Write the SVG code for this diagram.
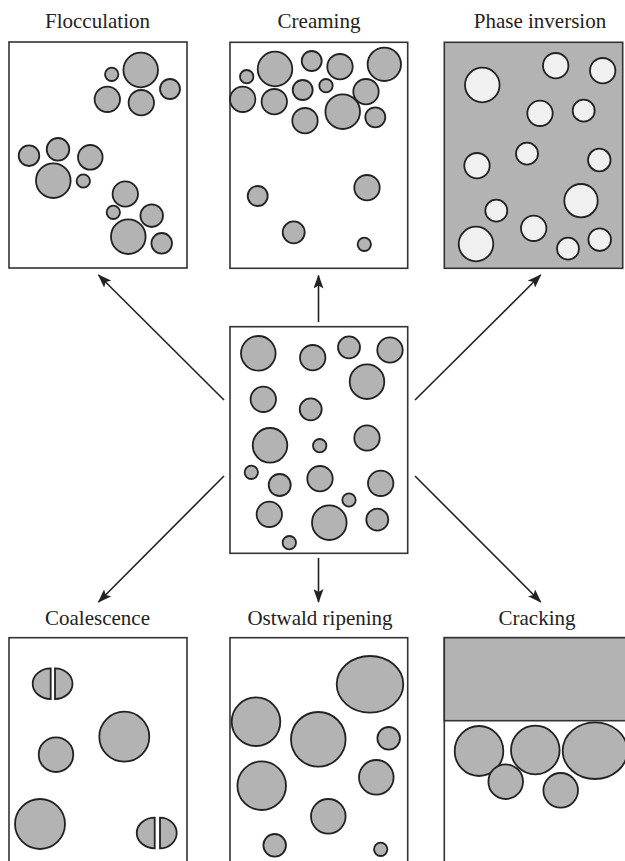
<svg xmlns="http://www.w3.org/2000/svg" width="625" height="861" viewBox="0 0 625 861">
<defs>
<marker id="ah" markerWidth="14" markerHeight="10" refX="13" refY="5" orient="auto" markerUnits="userSpaceOnUse">
<path d="M0,0 L14,5 L0,10 L3,5 Z" fill="#222"/>
</marker>
<style>
.panel{fill:#fff;stroke:#333;stroke-width:1.6}
.dark{fill:#b3b3b3;stroke:#333;stroke-width:1.6}
.d{fill:#b3b3b3;stroke:#222;stroke-width:1.8}
.w{fill:#f0f0f0;stroke:#222;stroke-width:1.8}
.t{font-family:"Liberation Serif","Times New Roman",serif;font-size:21px;fill:#222;text-anchor:middle}
.c{stroke:#222;stroke-width:1.6;fill:none;marker-end:url(#ah)}
</style>
</defs>
<rect width="625" height="861" fill="#fff"/>

<g id="flocculation">
<text class="t" x="97.5" y="28">Flocculation</text>
<rect class="panel" x="9" y="42" width="178" height="226"/>
<circle class="d" cx="140.7" cy="70" r="17.3"/>
<circle class="d" cx="111.7" cy="74.3" r="6.7"/>
<circle class="d" cx="170" cy="89" r="10"/>
<circle class="d" cx="107.3" cy="99.3" r="12.7"/>
<circle class="d" cx="141.3" cy="102.7" r="12.7"/>
<circle class="d" cx="29" cy="155.7" r="10.3"/>
<circle class="d" cx="58" cy="149.3" r="11.3"/>
<circle class="d" cx="90.3" cy="157.3" r="12.3"/>
<circle class="d" cx="53.3" cy="180.7" r="17.3"/>
<circle class="d" cx="83.3" cy="181" r="6.7"/>
<circle class="d" cx="125.3" cy="194" r="12.7"/>
<circle class="d" cx="113.3" cy="212.3" r="6.7"/>
<circle class="d" cx="151.7" cy="215.7" r="11.3"/>
<circle class="d" cx="128.3" cy="236.7" r="17.3"/>
<circle class="d" cx="161.7" cy="243.3" r="10.3"/>
</g>

<g id="creaming">
<text class="t" x="319" y="28">Creaming</text>
<rect class="panel" x="230" y="42.3" width="177.7" height="226"/>
<circle class="d" cx="246.7" cy="76.7" r="6.7"/>
<circle class="d" cx="275" cy="69" r="17.3"/>
<circle class="d" cx="311.7" cy="61" r="10"/>
<circle class="d" cx="340" cy="66.7" r="12.7"/>
<circle class="d" cx="384.3" cy="64.3" r="16.7"/>
<circle class="d" cx="242.7" cy="99.3" r="12.7"/>
<circle class="d" cx="274.3" cy="101.7" r="12.7"/>
<circle class="d" cx="302.7" cy="90" r="10"/>
<circle class="d" cx="326" cy="85.7" r="6.7"/>
<circle class="d" cx="366" cy="91.7" r="12.7"/>
<circle class="d" cx="305" cy="120.7" r="12.7"/>
<circle class="d" cx="342.7" cy="111.7" r="17.3"/>
<circle class="d" cx="375.3" cy="117.3" r="10"/>
<circle class="d" cx="257.7" cy="196" r="10"/>
<circle class="d" cx="367" cy="187.7" r="12.7"/>
<circle class="d" cx="293.7" cy="232.3" r="11"/>
<circle class="d" cx="364.3" cy="244.3" r="6.7"/>
</g>

<g id="phase-inversion">
<text class="t" x="540" y="28">Phase inversion</text>
<rect class="dark" x="444.3" y="42.3" width="178.4" height="226"/>
<circle class="w" cx="482.3" cy="85" r="17.3"/>
<circle class="w" cx="555.7" cy="65.7" r="12.7"/>
<circle class="w" cx="602.7" cy="70.7" r="12.7"/>
<circle class="w" cx="540" cy="113.3" r="12.7"/>
<circle class="w" cx="583.7" cy="110.7" r="11"/>
<circle class="w" cx="527" cy="153.7" r="11"/>
<circle class="w" cx="477" cy="165.7" r="12.7"/>
<circle class="w" cx="599.3" cy="160" r="11.3"/>
<circle class="w" cx="581" cy="200.7" r="16.7"/>
<circle class="w" cx="496.3" cy="210.7" r="11"/>
<circle class="w" cx="533.7" cy="228.3" r="12.7"/>
<circle class="w" cx="476" cy="244" r="17.3"/>
<circle class="w" cx="568" cy="248.7" r="11"/>
<circle class="w" cx="599.7" cy="239.7" r="11.3"/>
</g>

<g id="emulsion">
<rect class="panel" x="230" y="326.7" width="177.7" height="226.6"/>
<circle class="d" cx="258.3" cy="353.3" r="17.3"/>
<circle class="d" cx="312.7" cy="357.7" r="12.7"/>
<circle class="d" cx="349" cy="347.3" r="11"/>
<circle class="d" cx="390" cy="350" r="12.7"/>
<circle class="d" cx="367" cy="381.7" r="17.3"/>
<circle class="d" cx="263.3" cy="399.3" r="12.7"/>
<circle class="d" cx="310.7" cy="409.3" r="11"/>
<circle class="d" cx="270" cy="445.3" r="17.3"/>
<circle class="d" cx="319.7" cy="445.7" r="6.7"/>
<circle class="d" cx="367" cy="438" r="12.7"/>
<circle class="d" cx="251.3" cy="472.3" r="6.7"/>
<circle class="d" cx="279.7" cy="485" r="11"/>
<circle class="d" cx="320" cy="478.7" r="12.7"/>
<circle class="d" cx="380.7" cy="483.3" r="12.7"/>
<circle class="d" cx="349" cy="500" r="6.7"/>
<circle class="d" cx="269.3" cy="514.3" r="12.7"/>
<circle class="d" cx="329.3" cy="522.7" r="17.3"/>
<circle class="d" cx="377.3" cy="519.7" r="11"/>
<circle class="d" cx="289.3" cy="542.7" r="6.7"/>
</g>

<g id="coalescence">
<text class="t" x="97.5" y="625">Coalescence</text>
<rect class="panel" x="9" y="637.7" width="178" height="240"/>
<path class="d" d="M50.7,668.4 A18,15.3 0 0 0 50.7,699 Z"/>
<path class="d" d="M55,668.4 A17.5,15.3 0 0 1 55,699 Z"/>
<circle class="d" cx="56" cy="754.7" r="17.3"/>
<circle class="d" cx="124.3" cy="736.7" r="25"/>
<circle class="d" cx="40" cy="824" r="25"/>
<path class="d" d="M154.7,817.7 A18,15.3 0 0 0 154.7,848.3 Z"/>
<path class="d" d="M160,817.7 A16.7,15.3 0 0 1 160,848.3 Z"/>
</g>

<g id="ostwald-ripening">
<text class="t" x="320" y="625">Ostwald ripening</text>
<rect class="panel" x="230" y="637.7" width="177.7" height="240"/>
<ellipse class="d" cx="370" cy="684.3" rx="33.3" ry="28.3"/>
<circle class="d" cx="256" cy="721.7" r="24.3"/>
<circle class="d" cx="318.3" cy="739.3" r="27.3"/>
<circle class="d" cx="388.7" cy="738.3" r="11.3"/>
<circle class="d" cx="261.7" cy="785.7" r="24.3"/>
<circle class="d" cx="376.3" cy="777.3" r="17.3"/>
<circle class="d" cx="328.3" cy="816.3" r="17.3"/>
<circle class="d" cx="274.7" cy="845.3" r="11.3"/>
<circle class="d" cx="380.7" cy="849.3" r="6.7"/>
</g>

<g id="cracking">
<text class="t" x="537" y="625">Cracking</text>
<rect class="panel" x="444.3" y="637.7" width="190" height="240"/>
<rect class="dark" x="444.3" y="637.7" width="190" height="83"/>
<ellipse class="d" cx="479" cy="751" rx="24.3" ry="25"/>
<circle class="d" cx="535.3" cy="750" r="24.3"/>
<ellipse class="d" cx="595" cy="750.7" rx="32.3" ry="28.3"/>
<circle class="d" cx="505.7" cy="781.7" r="17.3"/>
<circle class="d" cx="560.7" cy="790.3" r="17.3"/>
</g>

<g id="connectors">
<line class="c" x1="224" y1="400" x2="98.5" y2="275"/>
<line class="c" x1="318.5" y1="322" x2="318.5" y2="275.5"/>
<line class="c" x1="415" y1="400" x2="540.7" y2="275"/>
<line class="c" x1="224" y1="476" x2="98.5" y2="602"/>
<line class="c" x1="318.5" y1="558" x2="318.5" y2="602"/>
<line class="c" x1="415" y1="476" x2="540.7" y2="602"/>
</g>
</svg>
